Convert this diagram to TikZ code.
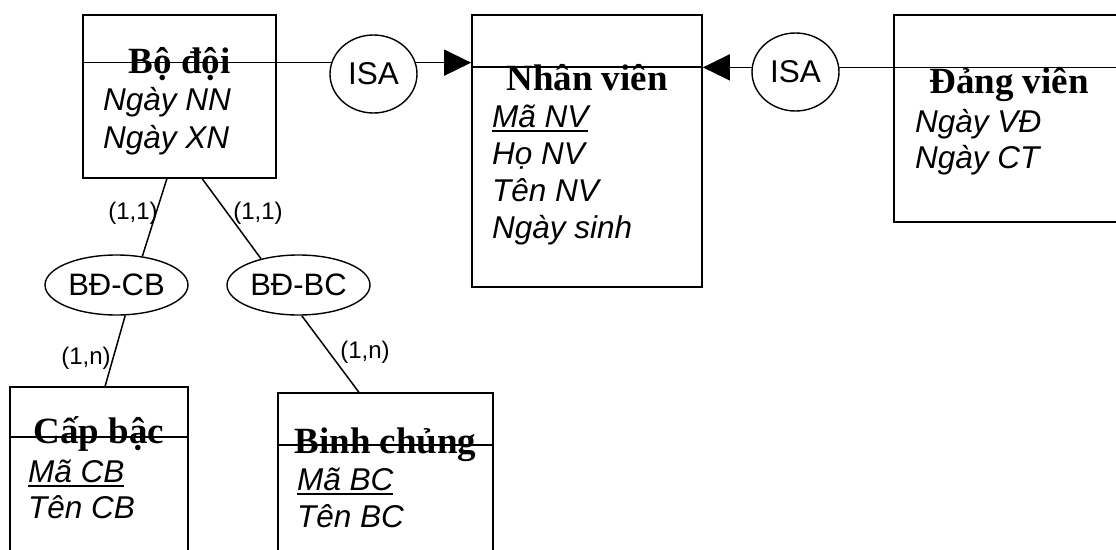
\documentclass[tikz,border=0pt]{standalone}
\usepackage{fontspec}
\setmainfont{Liberation Serif}
\newfontfamily\arialfont{Liberation Sans}
\usetikzlibrary{arrows.meta,calc,shapes.geometric}
\newcommand\myul[1]{\setbox0\hbox{#1}\rlap{\rule[-5pt]{\wd0}{1.6pt}}\box0}
\begin{document}
\begin{tikzpicture}[x=1pt,y=-1pt,
 ent/.style={draw, line width=1.7pt, inner sep=0},
 ttl/.style={font=\fontsize{37}{42}\selectfont\bfseries, anchor=base, inner sep=0},
 attr/.style={font=\arialfont\itshape\fontsize{31.5}{37}\selectfont, anchor=base west, inner sep=0},
 rel/.style={draw, ellipse, line width=1.4pt, inner sep=0, font=\arialfont\fontsize{31.5}{36}\selectfont},
 card/.style={font=\arialfont\fontsize{24}{28}\selectfont, inner sep=0},
 conn/.style={line width=1.5pt},
 tip/.style={-{Triangle[length=27pt,width=26pt]}}
]
\useasboundingbox (0,0) rectangle (1116,549);
% entity boxes
\node[ent, minimum width=193pt, minimum height=163pt] (bodoi) at (179.5,96.5) {};
\node[ent, minimum width=230pt, minimum height=272pt] (nv) at (587,151) {};
\node[ent, minimum width=230pt, minimum height=207pt] (dv) at (1009,118.5) {};
\node[ent, minimum width=178pt, minimum height=180pt] (cb) at (99,477) {};
\node[ent, minimum width=215pt, minimum height=180pt] (bc) at (385.5,483) {};
% relationship ellipses
\node[rel, minimum width=87pt, minimum height=78pt] (isa1) at (373.5,74) {ISA};
\node[rel, minimum width=87pt, minimum height=78pt] (isa2) at (795.5,72) {ISA};
\node[rel, minimum width=143pt, minimum height=60pt, font=\arialfont\fontsize{31}{35}\selectfont] (bdcb) at (116.5,285) {BĐ-CB};
\node[rel, minimum width=143pt, minimum height=60pt, font=\arialfont\fontsize{31}{35}\selectfont] (bdbc) at (298.5,285) {BĐ-BC};
% ISA connectors
\draw[conn] (bodoi.west |- isa1.165) -- (isa1.165);
\draw[conn,tip] (isa1.15) -- (isa1.15 -| nv.west);
\draw[conn,tip] (isa2.174) -- (isa2.174 -| nv.east);
\draw[conn] (isa2.6) -- (isa2.6 -| dv.west);
% inner partition lines
\draw[conn] ($(nv.north west)+(0,53)$) -- ($(nv.north east)+(0,53)$);
\draw[conn] (dv.west |- isa2.6) -- (dv.east |- isa2.6);
\draw[conn] ($(cb.north west)+(0,51)$) -- ($(cb.north east)+(0,51)$);
\draw[conn] ($(bc.north west)+(0,53)$) -- ($(bc.north east)+(0,53)$);
% lower connectors
\draw[conn] ($(bodoi.south west)!0.435!(bodoi.south east)$) -- (bdcb.48);
\draw[conn] ($(bodoi.south west)!0.617!(bodoi.south east)$) -- (bdbc.145);
\draw[conn] (bdcb.286) -- ($(cb.north west)!0.534!(cb.north east)$);
\draw[conn] (bdbc.276) -- ($(bc.north west)!0.377!(bc.north east)$);
% cardinalities
\node[card] (c1) at (133,213) {(1,1)};
\node[card] (c2) at (258,213) {(1,1)};
\node[card] (c3) at (86,358) {(1,n)};
\node[card] (c4) at (365,352) {(1,n)};
% texts
\node[ttl] (bodoiT) at (179.5,73) {Bộ đội};
\node[attr] (bodoiA1) at (103,110) {Ngày NN};
\node[attr] (bodoiA2) at (103,148) {Ngày XN};
\node[ttl] (nvT) at (587,90) {Nhân viên};
\node[attr] (nvA1) at (492,127) {\myul{Mã NV}};
\node[attr] (nvA2) at (492,164) {Họ NV};
\node[attr] (nvA3) at (492,201) {Tên NV};
\node[attr] (nvA4) at (492,238) {Ngày sinh};
\node[ttl] (dvT) at (1009,93) {Đảng viên};
\node[attr] (dvA1) at (915,132) {Ngày VĐ};
\node[attr] (dvA2) at (915,168) {Ngày CT};
\node[ttl] (cbT) at (99,443) {Cấp bậc};
\node[attr] (cbA1) at (28,482) {\myul{Mã CB}};
\node[attr] (cbA2) at (28,518) {Tên CB};
\node[ttl] (bcT) at (385.5,453) {Binh chủng};
\node[attr] (bcA1) at (297,490) {\myul{Mã BC}};
\node[attr] (bcA2) at (297,527) {Tên BC};
\end{tikzpicture}
\end{document}
